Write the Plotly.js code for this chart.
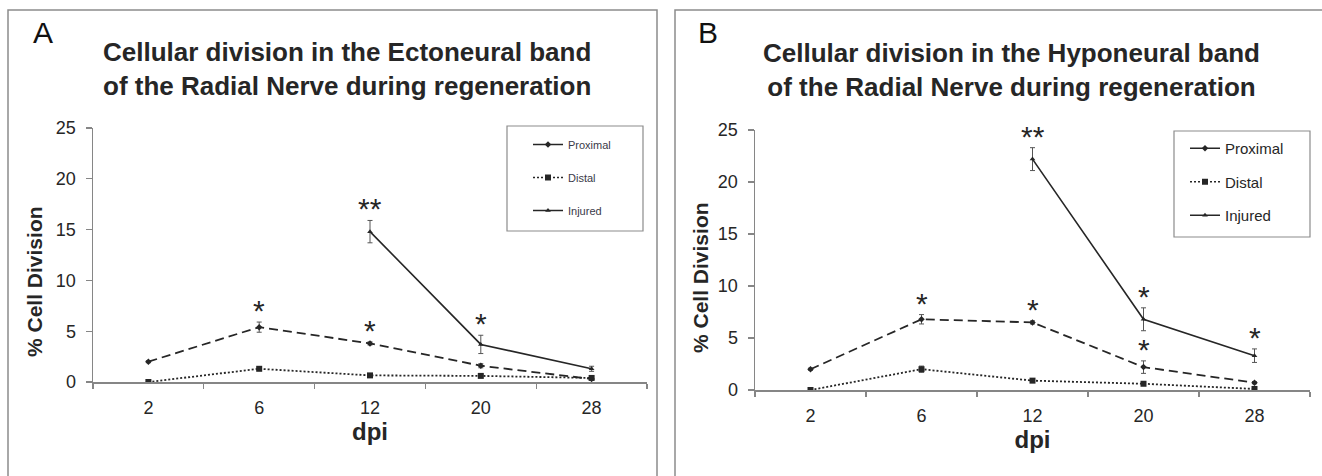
<!DOCTYPE html>
<html>
<head>
<meta charset="utf-8">
<script src="https://cdn.plot.ly/plotly-3.0.1.min.js"></script>
<style>
html,body{margin:0;padding:0;background:#fff;}
#chart{width:1322px;height:476px;}
</style>
</head>
<body>
<div id="chart"></div>
<script>
// ---------- DATA ----------
const categories = ['2', '6', '12', '20', '28'];
const yTicks = [0, 5, 10, 15, 20, 25];

// Panel A : Ectoneural band
const A_proximal     = [2.0, 5.4, 3.8, 1.6, 0.3];
const A_proximal_err = [0.1, 0.5, 0.15, 0.2, 0.1];
const A_distal       = [0.0, 1.3, 0.65, 0.6, 0.4];
const A_distal_err   = [0.05, 0.15, 0.1, 0.1, 0.1];
const A_injured      = [null, null, 14.8, 3.7, 1.3];
const A_injured_err  = [0, 0, 1.1, 0.9, 0.25];

// Panel B : Hyponeural band
const B_proximal     = [2.0, 6.8, 6.5, 2.2, 0.7];
const B_proximal_err = [0.1, 0.45, 0.15, 0.6, 0.1];
const B_distal       = [0.0, 2.0, 0.9, 0.6, 0.1];
const B_distal_err   = [0.05, 0.3, 0.1, 0.1, 0.1];
const B_injured      = [null, null, 22.2, 6.8, 3.3];
const B_injured_err  = [0, 0, 1.1, 1.1, 0.65];

const seriesNames = ['Proximal', 'Distal', 'Injured'];

// significance marks: [series, category index, mark]
const A_signif = [['Proximal', 1, '*'], ['Proximal', 2, '*'], ['Injured', 2, '**'], ['Injured', 3, '*']];
const B_signif = [['Proximal', 1, '*'], ['Proximal', 2, '*'], ['Injured', 2, '**'], ['Injured', 3, '*'], ['Proximal', 3, '*'], ['Injured', 4, '*']];

const titleA = 'Cellular division in the Ectoneural band<br>of the Radial Nerve during regeneration';
const titleB = 'Cellular division in the Hyponeural band<br>of the Radial Nerve during regeneration';
const yTitle = '% Cell Division';
const xTitle = 'dpi';

// ---------- STYLE ----------
const W = 1322, H = 476;
const FONT = 'Liberation Sans, Arial, Helvetica, sans-serif';
const INK = '#262626';
const AXC = '#868686';
const px = v => v / W;
const py = v => 1 - v / H;

const styles = {
  Proximal: {line: {color: INK, width: 1.8, dash: '9px,5px'}, marker: {symbol: 'diamond', size: 5, color: INK}},
  Distal:   {line: {color: INK, width: 1.8, dash: '2px,2px'}, marker: {symbol: 'square', size: 6, color: INK}},
  Injured:  {line: {color: INK, width: 1.6, dash: 'solid'},  marker: {symbol: 'triangle-up', size: 5, color: INK}}
};
const legendStyles = {
  Proximal: {line: {color: INK, width: 1.5, dash: 'solid'}, marker: {symbol: 'diamond', size: 5, color: INK}},
  Distal:   {line: {color: INK, width: 1.5, dash: '2px,2px'}, marker: {symbol: 'square', size: 6, color: INK}},
  Injured:  {line: {color: INK, width: 1.5, dash: 'solid'},  marker: {symbol: 'triangle-up', size: 5, color: INK}}
};

function panelTraces(vals, errs, xa, ya, leg) {
  const out = [];
  seriesNames.forEach((n, i) => {
    out.push({
      type: 'scatter', mode: 'lines+markers', name: n,
      x: categories, y: vals[i], xaxis: xa, yaxis: ya,
      line: styles[n].line, marker: styles[n].marker,
      error_y: {type: 'data', array: errs[i], visible: true, color: '#555', thickness: 1, width: 2.5},
      showlegend: false, connectgaps: false, hoverinfo: 'x+y+name'
    });
  });
  seriesNames.forEach((n, i) => {
    out.push({
      type: 'scatter', mode: 'lines+markers', name: n,
      x: [null], y: [null], xaxis: xa, yaxis: ya,
      line: legendStyles[n].line, marker: legendStyles[n].marker,
      showlegend: true, legend: leg, legendgroup: leg + n
    });
  });
  return out;
}

const valsA = [A_proximal, A_distal, A_injured], errsA = [A_proximal_err, A_distal_err, A_injured_err];
const valsB = [B_proximal, B_distal, B_injured], errsB = [B_proximal_err, B_distal_err, B_injured_err];

const traces = [].concat(
  panelTraces(valsA, errsA, 'x', 'y', 'legend'),
  panelTraces(valsB, errsB, 'x2', 'y2', 'legend2')
);

function signifAnn(list, vals, errs, xref, yref) {
  return list.map(([s, ci, mark]) => {
    const k = seriesNames.indexOf(s);
    return {
      xref: xref, yref: yref, x: ci, y: vals[k][ci] + errs[k][ci],
      text: mark, showarrow: false, xanchor: 'center', yanchor: 'bottom', yshift: -7,
      font: {family: FONT, size: 30, color: INK}
    };
  });
}

function xAxis(domain, anchor) {
  return {
    domain: domain, anchor: anchor, type: 'category', range: [-0.5, 4.5],
    tickson: 'boundaries', ticks: 'outside', ticklen: 5, tickcolor: AXC, tickwidth: 1.2,
    showline: true, linecolor: AXC, linewidth: 1.5, showgrid: false, zeroline: false,
    tickfont: {family: FONT, size: 18, color: INK}, ticklabelstandoff: 9,
    title: {text: '<b>' + xTitle + '</b>', font: {family: FONT, size: 24, color: INK}, standoff: 1},
    fixedrange: true
  };
}
function yAxis(domain, anchor) {
  return {
    domain: domain, anchor: anchor, range: [0, 25], tickvals: yTicks,
    ticks: 'outside', ticklen: 6, tickcolor: AXC, tickwidth: 1.2,
    showline: true, linecolor: AXC, linewidth: 1.5, showgrid: false, zeroline: false,
    tickfont: {family: FONT, size: 18, color: INK}, ticklabelstandoff: 6,
    fixedrange: true
  };
}

const legendCommon = {
  bgcolor: 'rgba(0,0,0,0)', borderwidth: 0, xanchor: 'left', yanchor: 'top',
  itemclick: false, itemdoubleclick: false
};

const layout = {
  width: W, height: H,
  margin: {l: 0, r: 0, t: 0, b: 0},
  paper_bgcolor: '#fff', plot_bgcolor: '#fff',
  font: {family: FONT, color: INK},
  showlegend: true,
  xaxis: xAxis([px(93), px(647)], 'y'),
  yaxis: yAxis([py(382), py(128)], 'x'),
  xaxis2: xAxis([px(755), px(1310)], 'y2'),
  yaxis2: yAxis([py(390), py(130)], 'x2'),
  legend: Object.assign({}, legendCommon, {x: px(528), y: py(130), tracegroupgap: 14, font: {family: FONT, size: 11, color: '#3a3a48'}}),
  legend2: Object.assign({}, legendCommon, {x: px(1185), y: py(132), tracegroupgap: 11, font: {family: FONT, size: 15, color: INK}}),
  shapes: [
    {type: 'rect', xref: 'paper', yref: 'paper', x0: px(8), x1: px(657), y0: py(490), y1: py(10), line: {color: '#8c8c8c', width: 1.5}},
    {type: 'rect', xref: 'paper', yref: 'paper', x0: px(675), x1: px(1340), y0: py(490), y1: py(10), line: {color: '#8c8c8c', width: 1.5}},
    {type: 'rect', xref: 'paper', yref: 'paper', x0: px(507), x1: px(643), y0: py(231), y1: py(126), line: {color: '#8c8c8c', width: 1.2}},
    {type: 'rect', xref: 'paper', yref: 'paper', x0: px(1174), x1: px(1310), y0: py(237), y1: py(131), line: {color: '#8c8c8c', width: 1.2}}
  ],
  annotations: [
    {xref: 'paper', yref: 'paper', x: px(43), y: py(33), text: 'A', showarrow: false, xanchor: 'center', yanchor: 'middle', font: {family: FONT, size: 30, color: '#111'}},
    {xref: 'paper', yref: 'paper', x: px(708), y: py(33), text: 'B', showarrow: false, xanchor: 'center', yanchor: 'middle', font: {family: FONT, size: 30, color: '#111'}},
    {xref: 'paper', yref: 'paper', x: px(347), y: py(69), text: '<b>' + titleA + '</b>', showarrow: false, xanchor: 'center', yanchor: 'middle', align: 'center', font: {family: FONT, size: 26, color: INK}},
    {xref: 'paper', yref: 'paper', x: px(1011), y: py(70), text: '<b>' + titleB + '</b>', showarrow: false, xanchor: 'center', yanchor: 'middle', align: 'center', font: {family: FONT, size: 26, color: INK}},
    {xref: 'paper', yref: 'paper', x: px(34), y: py(282), text: '<b>' + yTitle + '</b>', textangle: -90, showarrow: false, xanchor: 'center', yanchor: 'middle', font: {family: FONT, size: 21, color: INK}},
    {xref: 'paper', yref: 'paper', x: px(700), y: py(277), text: '<b>' + yTitle + '</b>', textangle: -90, showarrow: false, xanchor: 'center', yanchor: 'middle', font: {family: FONT, size: 21, color: INK}}
  ].concat(signifAnn(A_signif, valsA, errsA, 'x', 'y'), signifAnn(B_signif, valsB, errsB, 'x2', 'y2'))
};

Plotly.newPlot('chart', traces, layout, {displayModeBar: false, staticPlot: true});
</script>
</body>
</html>
